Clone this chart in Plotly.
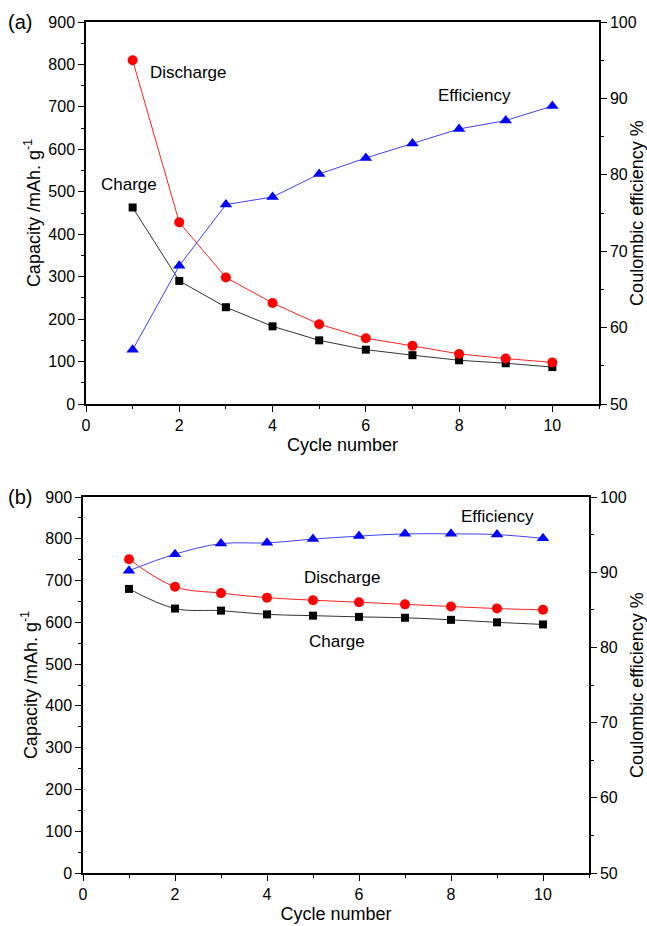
import plotly.graph_objects as go

cycles = [1, 2, 3, 4, 5, 6, 7, 8, 9, 10]

# Panel (a)
a_discharge = [810, 428, 298, 238, 188, 155, 137, 118, 107, 98]
a_charge = [463, 290, 228, 183, 150, 128, 115, 103, 96, 87]
a_efficiency = [57.1, 68.1, 76.1, 77.1, 80.1, 82.2, 84.1, 86.0, 87.1, 89.0]

# Panel (b)
b_discharge = [751, 685, 670, 659, 653, 648, 643, 638, 633, 630]
b_charge = [680, 633, 628, 619, 616, 613, 611, 606, 600, 595]
b_efficiency = [90.2, 92.4, 93.8, 93.9, 94.4, 94.8, 95.1, 95.1, 95.0, 94.5]

x_ticks = [0, 2, 4, 6, 8, 10]
cap_ticks = [0, 100, 200, 300, 400, 500, 600, 700, 800, 900]
eff_ticks = [50, 60, 70, 80, 90, 100]

FONT = "Liberation Sans, Arial, sans-serif"
W, H = 647, 926

fig = go.Figure()

def add_panel(xa, ya, ya2, dis, chg, eff, shape):
    fig.add_trace(go.Scatter(x=cycles, y=chg, mode="lines+markers", xaxis=xa, yaxis=ya,
                             line=dict(color="#333333", width=1, shape=shape),
                             marker=dict(symbol="square", size=8, color="black"), showlegend=False))
    fig.add_trace(go.Scatter(x=cycles, y=dis, mode="lines+markers", xaxis=xa, yaxis=ya,
                             line=dict(color="#ff2020", width=1, shape=shape),
                             marker=dict(symbol="circle", size=10, color="#ff0000"), showlegend=False))
    fig.add_trace(go.Scatter(x=cycles, y=eff, mode="lines+markers", xaxis=xa, yaxis=ya2,
                             line=dict(color="#4040ff", width=1, shape=shape),
                             marker=dict(symbol="triangle-up", size=11, color="#0000ff"), showlegend=False))

add_panel("x", "y", "y2", a_discharge, a_charge, a_efficiency, "linear")
add_panel("x2", "y3", "y4", b_discharge, b_charge, b_efficiency, "spline")

tickfont = dict(family=FONT, size=16, color="black")
titlefont = dict(family=FONT, size=18, color="black")

def xaxis_cfg(domain, anchor):
    return dict(domain=domain, anchor=anchor, range=[0, 11], tickvals=x_ticks, automargin=False,
                ticks="outside", ticklen=6, tickwidth=1.2, tickcolor="black",
                minor=dict(dtick=1, tick0=0, ticks="outside", ticklen=3, tickcolor="black"),
                showline=True, linecolor="black", linewidth=1.5, mirror=True,
                showgrid=False, zeroline=False, tickfont=tickfont,
                title=dict(text="Cycle number", font=titlefont, standoff=5))

def ycap_cfg(domain, anchor):
    return dict(domain=domain, anchor=anchor, range=[0, 900], tickvals=cap_ticks, automargin=False,
                ticks="outside", ticklen=6, tickwidth=1.2, tickcolor="black",
                minor=dict(dtick=50, tick0=0, ticks="outside", ticklen=3, tickcolor="black"),
                showline=True, linecolor="black", linewidth=1.5,
                showgrid=False, zeroline=False, tickfont=tickfont,
                title=dict(text="Capacity /mAh. g<sup>-1</sup>", font=titlefont, standoff=3))

def yeff_cfg(overlay, anchor):
    return dict(overlaying=overlay, anchor=anchor, side="right", range=[50, 100], tickvals=eff_ticks,
                automargin=False,
                ticks="outside", ticklen=6, tickwidth=1.2, tickcolor="black",
                minor=dict(dtick=5, tick0=50, ticks="outside", ticklen=3, tickcolor="black"),
                showline=True, linecolor="black", linewidth=1.5,
                showgrid=False, zeroline=False, tickfont=tickfont,
                title=dict(text="Coulombic efficiency %", font=titlefont, standoff=7))

def px_x(v):
    return v / W

def px_y(v):
    return 1 - v / H

xa_dom = [px_x(86), px_x(599)]
ya_dom = [px_y(404), px_y(22)]
xb_dom = [px_x(83), px_x(589)]
yb_dom = [px_y(873), px_y(497)]

ann_font = dict(family=FONT, size=17, color="black")
annotations = [
    dict(text="(a)", x=px_x(6), y=px_y(22), xref="paper", yref="paper", showarrow=False,
         xanchor="left", yanchor="middle", font=dict(family=FONT, size=20, color="black")),
    dict(text="(b)", x=px_x(6), y=px_y(497), xref="paper", yref="paper", showarrow=False,
         xanchor="left", yanchor="middle", font=dict(family=FONT, size=20, color="black")),
    dict(text="Discharge", x=2.19, y=782, xref="x", yref="y", showarrow=False, font=ann_font),
    dict(text="Charge", x=0.92, y=516, xref="x", yref="y", showarrow=False, font=ann_font),
    dict(text="Efficiency", x=8.32, y=728, xref="x", yref="y", showarrow=False, font=ann_font),
    dict(text="Discharge", x=5.65, y=708, xref="x2", yref="y3", showarrow=False, font=ann_font),
    dict(text="Charge", x=5.52, y=555, xref="x2", yref="y3", showarrow=False, font=ann_font),
    dict(text="Efficiency", x=9.01, y=854, xref="x2", yref="y3", showarrow=False, font=ann_font),
]

fig.update_layout(
    width=W, height=H,
    margin=dict(l=0, r=0, t=0, b=0, autoexpand=False),
    paper_bgcolor="white", plot_bgcolor="white",
    font=dict(family=FONT, color="black"),
    xaxis=xaxis_cfg(xa_dom, "y"),
    yaxis=ycap_cfg(ya_dom, "x"),
    yaxis2=yeff_cfg("y", "x"),
    xaxis2=xaxis_cfg(xb_dom, "y3"),
    yaxis3=ycap_cfg(yb_dom, "x2"),
    yaxis4=yeff_cfg("y3", "x2"),
    annotations=annotations,
)

fig.write_html("out.html")
